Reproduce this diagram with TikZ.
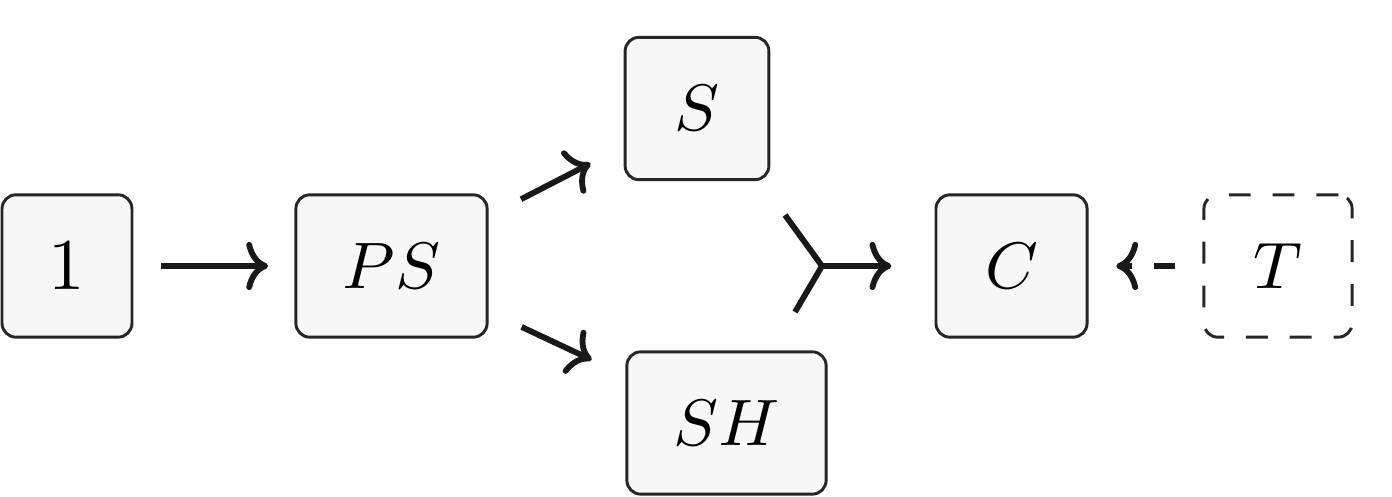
\documentclass[tikz,border=0pt]{standalone}
\usetikzlibrary{arrows.meta}
\begin{document}
\begin{tikzpicture}[x=0.137pt,y=-0.137pt,
  box/.style={draw=black!85, line width=0.4pt, fill=black!3, rounded corners=1.9pt, inner sep=0pt, minimum height=19.5pt, font=\fontsize{9}{11}\selectfont},
  arr/.style={line width=0.8pt, draw=black!90, -{Computer Modern Rightarrow[length=3pt,width=6.6pt]}},
  tailline/.style={line width=0.8pt, draw=black!90, line cap=butt}]
\useasboundingbox (0,0) rectangle (1392,497);
\node[box, minimum width=17.8pt, font=\fontsize{9.8}{11}\selectfont] (one) at (67,266) {$1$};
\node[box, minimum width=26.2pt] (ps) at (391.5,266) {$PS$};
\node[box, minimum width=19.7pt] (s) at (697,108.5) {$S$};
\node[box, minimum width=27.3pt] (sh) at (726.5,423) {$SH$};
\node[box, minimum width=20.7pt] (c) at (1011.5,266) {$C$};
\node[box, dashed, fill=none, minimum width=20.3pt] (t) at (1278,266) {$T$};
\coordinate (m) at (822,266);
\coordinate (mu) at (785,215);
\coordinate (md) at (795,312);
\draw[arr, shorten <=3.8pt, shorten >=3.6pt] (one) -- (ps);
\draw[arr, shorten <=5pt, shorten >=5.1pt] (ps) -- (s);
\draw[arr, shorten <=5pt, shorten >=5.1pt] (ps) -- (sh);
\draw[tailline] (mu) -- (m) -- (md);
\draw[arr, shorten >=5.9pt] (m) -- (c);
\draw[arr, dashed, shorten <=3.7pt, shorten >=3.8pt] (t) -- (c);
\end{tikzpicture}
\end{document}
